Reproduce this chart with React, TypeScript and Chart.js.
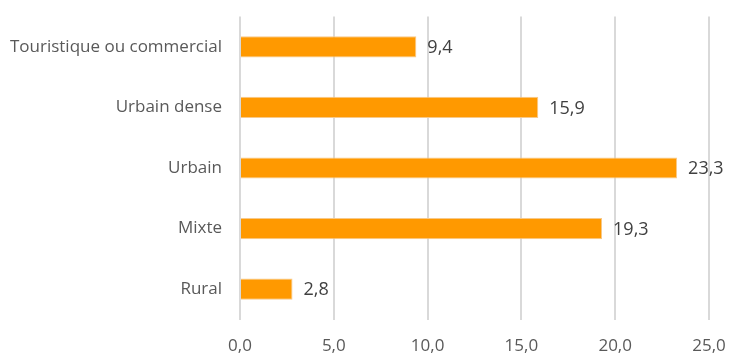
import React, { useEffect, useRef } from "react";
import { Chart, registerables } from "chart.js";

Chart.register(...registerables);

const categories = ["Touristique ou commercial", "Urbain dense", "Urbain", "Mixte", "Rural"];
const values = [9.4, 15.9, 23.3, 19.3, 2.8];
const xMin = 0;
const xMax = 25;
const xStep = 5;

const fmt = (v: number) => v.toFixed(1).replace(".", ",");
const FONT = "'Open Sans', sans-serif";

const labelPlugin = {
  id: "valueLabels",
  afterDatasetsDraw(chart: any) {
    const ctx = chart.ctx;
    const meta = chart.getDatasetMeta(0);
    ctx.save();
    ctx.font = `18px ${FONT}`;
    ctx.fillStyle = "#404040";
    ctx.textAlign = "left";
    ctx.textBaseline = "middle";
    meta.data.forEach((bar: any, i: number) => {
      ctx.fillText(fmt(values[i]), bar.x + 11, bar.y + 1);
    });
    ctx.restore();
  },
};

export default function App() {
  const ref = useRef<HTMLCanvasElement>(null);
  useEffect(() => {
    if (!ref.current) return;
    const chart = new Chart(ref.current, {
      type: "bar",
      data: {
        labels: categories,
        datasets: [
          {
            data: values,
            backgroundColor: "#FF9900",
            borderColor: "#F7C98A",
            borderWidth: 1,
            barPercentage: 0.35,
            categoryPercentage: 1,
          },
        ],
      },
      options: {
        indexAxis: "y",
        animation: false,
        responsive: false,
        maintainAspectRatio: false,
        layout: { padding: { top: 16.5, right: 21, left: 0, bottom: 0 } },
        plugins: { legend: { display: false }, tooltip: { enabled: false } },
        scales: {
          x: {
            min: xMin,
            max: xMax,
            ticks: {
              stepSize: xStep,
              callback: (v: any) => fmt(Number(v)),
              color: "#595959",
              font: { family: FONT, size: 17 },
              padding: 16,
            },
            grid: { color: "#D9D9D9", lineWidth: 2, drawTicks: false },
            border: { display: false },
            afterFit: (s: any) => {
              s.height = 34.5;
              s.paddingLeft = 0;
              s.paddingRight = 0;
            },
          },
          y: {
            ticks: {
              color: "#595959",
              font: { family: FONT, size: 17 },
              padding: 18,
            },
            grid: { display: false, drawTicks: false },
            border: { display: false },
            afterFit: (s: any) => {
              s.width = 240;
              s.paddingTop = 0;
              s.paddingBottom = 0;
            },
          },
        },
      },
      plugins: [labelPlugin],
    });
    return () => chart.destroy();
  }, []);
  return (
    <div style={{ position: "fixed", left: 0, top: 0, width: 730, height: 354, background: "#fff" }}>
      <canvas ref={ref} width={730} height={354} />
    </div>
  );
}
